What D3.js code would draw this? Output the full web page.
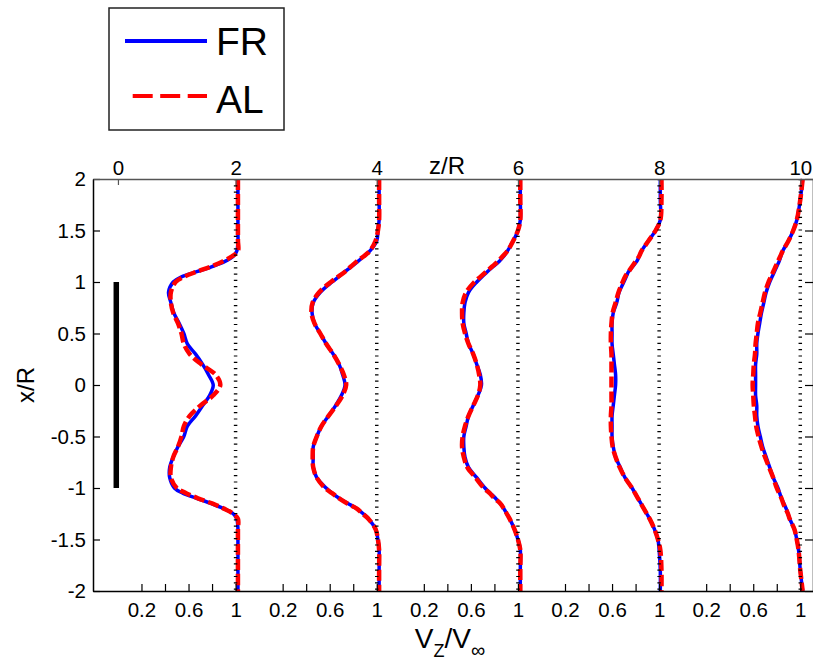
<!DOCTYPE html>
<html><head><meta charset="utf-8">
<script src="https://cdn.jsdelivr.net/npm/d3@7"></script>
<style>
body{margin:0;background:#fff;}
text{font-family:"Liberation Sans",Arial,Helvetica,sans-serif;fill:#000;}
</style></head>
<body><svg id="chart" width="813" height="665"></svg>
<script>
// ---------------- data ----------------
const zStations = [2, 4, 6, 8, 10];
const topTickAt = [1/3, 2, 4, 6, 8, 10];
const topTickLabels = ["0", "2", "4", "6", "8", "10"];
const yTicks = [-2, -1.5, -1, -0.5, 0, 0.5, 1, 1.5, 2];
const yTickLabels = ["-2", "-1.5", "-1", "-0.5", "0", "0.5", "1", "1.5", "2"];
const vTicks = [0.2, 0.4, 0.6, 0.8, 1];
const vTickLabels = ["0.2", "", "0.6", "", "1"];
const rotorAt = 0.31;
const rotorSpan = [-1, 1];
const seriesNames = ["FR", "AL"];

const Y = [2, 1.8, 1.6, 1.5, 1.4, 1.3, 1.25, 1.2, 1.15, 1.1, 1.05, 1.0,
  0.9, 0.8, 0.7, 0.6, 0.5, 0.4, 0.3, 0.2, 0.1, 0, -0.1, -0.2, -0.3, -0.4, -0.5, -0.6, -0.7, -0.8, -0.9,
  -1.0, -1.05, -1.1, -1.15, -1.2, -1.25, -1.3, -1.4, -1.5, -1.6, -1.8, -2];

const FR2 = [1.02,1.02,1.02,1.02,1.02,1.01, 0.98,0.91,0.80,0.67,0.54,0.47,
  0.43,0.45,0.475,0.52,0.56,0.59,0.66,0.72,0.77,0.81,0.78,0.72,0.66,0.59,0.56,0.51,0.47,0.44,0.44,
  0.48,0.55,0.67,0.79,0.90,0.98,1.01, 1.02,1.02,1.02,1.02,1.02];
const AL2 = [1.02,1.02,1.02,1.02,1.02,1.02, 0.97,0.89,0.79,0.67,0.56,0.49,
  0.45,0.45,0.47,0.51,0.54,0.56,0.61,0.71,0.83,0.87,0.81,0.70,0.61,0.56,0.54,0.51,0.47,0.45,0.45,
  0.50,0.58,0.68,0.80,0.90,0.98,1.02, 1.02,1.02,1.02,1.02,1.02];
const FR4 = [1.02,1.02,1.02,1.01,1.00,0.94, 0.89,0.84,0.785,0.73,0.675,0.62,
  0.52,0.46,0.45,0.47,0.52,0.57,0.63,0.68,0.71,0.73,0.70,0.65,0.59,0.53,0.49,0.46,0.46,0.46,0.49,
  0.57,0.62,0.68,0.755,0.83,0.885,0.93, 0.99,1.01,1.02,1.02,1.02];
const AL4 = [1.02,1.02,1.02,1.01,0.99,0.94, 0.89,0.83,0.78,0.73,0.67,0.61,
  0.51,0.455,0.445,0.47,0.52,0.57,0.63,0.68,0.72,0.74,0.71,0.655,0.59,0.53,0.49,0.46,0.455,0.46,0.49,
  0.56,0.62,0.68,0.75,0.83,0.88,0.93, 0.99,1.01,1.02,1.02,1.02];
const FR6 = [1.02,1.02,1.02,1.00,0.96,0.91, 0.88,0.84,0.79,0.74,0.695,0.65,
  0.58,0.55,0.54,0.54,0.56,0.58,0.62,0.65,0.68,0.69,0.66,0.62,0.58,0.56,0.54,0.54,0.55,0.58,0.65,
  0.72,0.765,0.81,0.85,0.88,0.905,0.93, 0.97,1.00,1.02,1.02,1.02];
const AL6 = [1.02,1.02,1.02,1.00,0.96,0.91, 0.87,0.83,0.78,0.73,0.68,0.63,
  0.56,0.53,0.525,0.53,0.55,0.58,0.62,0.65,0.67,0.68,0.66,0.62,0.58,0.55,0.53,0.525,0.54,0.57,0.64,
  0.71,0.76,0.80,0.85,0.88,0.905,0.93, 0.97,1.00,1.02,1.02,1.02];
const FR8 = [1.01,1.01,1.01,0.97,0.91,0.85, 0.83,0.81,0.775,0.74,0.72,0.70,
  0.66,0.64,0.61,0.60,0.60,0.60,0.61,0.62,0.63,0.63,0.62,0.61,0.60,0.60,0.60,0.61,0.63,0.67,0.71,
  0.77,0.795,0.82,0.845,0.87,0.895,0.92, 0.96,0.99,1.00,1.01,1.01];
const AL8 = [1.02,1.02,1.01,0.97,0.91,0.85, 0.83,0.80,0.77,0.74,0.71,0.69,
  0.655,0.63,0.605,0.595,0.59,0.59,0.595,0.595,0.595,0.595,0.595,0.595,0.59,0.59,0.595,0.605,0.63,0.665,0.71,
  0.77,0.795,0.82,0.845,0.87,0.895,0.92, 0.96,0.99,1.01,1.02,1.02];
const FR10 = [1.02,1.00,0.97,0.94,0.90,0.85, 0.835,0.82,0.80,0.78,0.76,0.74,
  0.71,0.69,0.67,0.655,0.64,0.63,0.63,0.62,0.62,0.62,0.62,0.63,0.63,0.64,0.66,0.68,0.71,0.74,0.77,
  0.81,0.825,0.84,0.86,0.88,0.895,0.91, 0.95,0.97,0.985,1.00,1.02];
const AL10 = [1.02,1.00,0.97,0.94,0.90,0.85, 0.83,0.81,0.79,0.77,0.75,0.73,
  0.70,0.68,0.66,0.64,0.63,0.62,0.615,0.605,0.60,0.595,0.60,0.605,0.615,0.625,0.645,0.67,0.70,0.735,0.77,
  0.80,0.82,0.84,0.855,0.875,0.895,0.91, 0.95,0.97,0.985,1.00,1.02];

const FR = [FR2, FR4, FR6, FR8, FR10];
const AL = [AL2, AL4, AL6, AL8, AL10];

// ---------------- drawing ----------------
const svg = d3.select("#chart");
const L = 93, R = 813, T = 179, B = 591;
const K = 5 / 3; // horizontal units per unit of V/Vinf
const x = d3.scaleLinear().domain([-0.02, 10.18]).range([L, R]);
const y = d3.scaleLinear().domain([-2, 2]).range([B, T]);
const pos = (z, v) => z - (1 - v) * K;

const line = z => d3.line()
  .x(d => x(pos(z, d.v)))
  .y(d => y(d.y))
  .curve(d3.curveCatmullRom.alpha(0.5));

// profiles: FR (blue solid) then AL (red dashed)
zStations.forEach((z, i) => {
  const fr = Y.map((yy, j) => ({y: yy, v: FR[i][j]}));
  const al = Y.map((yy, j) => ({y: yy, v: AL[i][j]}));
  svg.append("path").datum(fr).attr("d", line(z))
    .attr("fill", "none").attr("stroke", "#0000ff").attr("stroke-width", 3.5);
  svg.append("path").datum(al).attr("d", line(z))
    .attr("fill", "none").attr("stroke", "#ff0000").attr("stroke-width", 4.5)
    .attr("stroke-dasharray", "11,4");
});

// dotted reference lines at V/Vinf = 1
svg.append("g").selectAll("line").data(zStations).join("line")
  .attr("x1", z => x(pos(z, 1))).attr("x2", z => x(pos(z, 1)))
  .attr("y1", y(2)).attr("y2", y(-2))
  .attr("stroke", "#000").attr("stroke-width", 3.5)
  .attr("stroke-dasharray", "1.2,5.1");

// rotor bar
svg.append("line")
  .attr("x1", x(rotorAt)).attr("x2", x(rotorAt))
  .attr("y1", y(rotorSpan[1])).attr("y2", y(rotorSpan[0]))
  .attr("stroke", "#000").attr("stroke-width", 5.5);

// axes
const fontSize = "20.5px";
const styleAxis = (g, color) => {
  g.select(".domain").attr("stroke", color).attr("stroke-width", 1.5);
  g.selectAll(".tick line").attr("stroke", color).attr("stroke-width", 1.2);
  g.selectAll(".tick text").attr("font-size", fontSize)
    .attr("font-family", "'Liberation Sans',Arial,sans-serif").attr("fill", "#000");
};

// left
svg.append("g").attr("transform", `translate(${L},0)`)
  .call(d3.axisLeft(y).tickValues(yTicks).tickFormat((d, i) => yTickLabels[i])
    .tickSize(-7).tickSizeOuter(0).tickPadding(7))
  .call(g => styleAxis(g, "#000"));

// right (ticks only)
svg.append("g").attr("transform", `translate(${R},0)`)
  .call(d3.axisRight(y).tickValues(yTicks).tickFormat("")
    .tickSize(-8).tickSizeOuter(0))
  .call(g => styleAxis(g, "#000"));

// bottom
const bottomTicks = zStations.flatMap(z => vTicks.map(v => pos(z, v)));
const bottomLabels = zStations.flatMap(() => vTickLabels);
svg.append("g").attr("transform", `translate(0,${B})`)
  .call(d3.axisBottom(x).tickValues(bottomTicks).tickFormat((d, i) => bottomLabels[i])
    .tickSize(-7).tickSizeOuter(0).tickPadding(11))
  .call(g => styleAxis(g, "#000"));

// top
svg.append("g").attr("transform", `translate(0,${T})`)
  .call(d3.axisTop(x).tickValues(topTickAt).tickFormat((d, i) => topTickLabels[i])
    .tickSize(-6).tickSizeOuter(0).tickPadding(4))
  .call(g => styleAxis(g, "#555"));

// axis titles
svg.append("text").attr("x", 447).attr("y", 174).attr("text-anchor", "middle")
  .attr("font-size", "24px").text("z/R");

svg.append("text").attr("transform", `translate(34,${(T + B) / 2}) rotate(-90)`)
  .attr("text-anchor", "middle").attr("font-size", "24px").text("x/R");

const xl = svg.append("text").attr("x", 450).attr("y", 648).attr("text-anchor", "middle")
  .attr("font-size", "28px");
xl.append("tspan").text("V");
xl.append("tspan").attr("font-size", "18px").attr("dy", 9).text("Z");
xl.append("tspan").attr("dy", -9).text("/V");
xl.append("tspan").attr("font-size", "20px").attr("dy", 9).text("∞");

// legend
const lg = svg.append("g");
lg.append("rect").attr("x", 109).attr("y", 8).attr("width", 175).attr("height", 122)
  .attr("fill", "#fff").attr("stroke", "#222").attr("stroke-width", 1.5);
lg.append("line").attr("x1", 125).attr("x2", 207).attr("y1", 41).attr("y2", 41)
  .attr("stroke", "#0000ff").attr("stroke-width", 4);
lg.append("line").attr("x1", 132.7).attr("x2", 207).attr("y1", 96).attr("y2", 96)
  .attr("stroke", "#ff0000").attr("stroke-width", 4).attr("stroke-dasharray", "20,7.5");
lg.append("text").attr("x", 216).attr("y", 55).attr("font-size", "39px").text(seriesNames[0]);
lg.append("text").attr("x", 216).attr("y", 113).attr("font-size", "39px").text(seriesNames[1]);
</script>
</body></html>
